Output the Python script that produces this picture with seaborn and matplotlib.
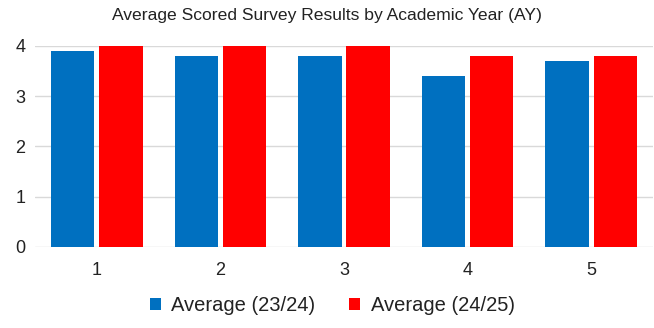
import pandas as pd
import matplotlib
matplotlib.use("Agg")
import matplotlib.pyplot as plt
import seaborn as sns

# data
categories = ["1", "2", "3", "4", "5"]
avg_2324 = [3.9, 3.8, 3.8, 3.4, 3.7]
avg_2425 = [4.0, 4.0, 4.0, 3.8, 3.8]
series_names = ["Average (23/24)", "Average (24/25)"]
colors = ["#0070C0", "#FF0000"]

df = pd.DataFrame({
    "Item": categories * 2,
    "Score": avg_2324 + avg_2425,
    "Series": [series_names[0]] * len(categories) + [series_names[1]] * len(categories),
})

sns.set_style("white")
plt.rcParams['font.family'] = ['Liberation Sans', 'DejaVu Sans']

fig = plt.figure(figsize=(6.54, 3.28), dpi=100)
ax = fig.add_axes([0.0535, 0.247, 0.945, 0.613])

sns.barplot(data=df, x="Item", y="Score", hue="Series", palette=colors,
            width=0.78, gap=0.1, saturation=1, linewidth=0, ax=ax, zorder=3)

ax.set_ylim(0, 4)
ax.set_yticks([0, 1, 2, 3, 4])
ax.set_xlim(-0.5, 4.5)
ax.grid(axis="y", color="#d9d9d9", linewidth=1, zorder=0)
for s in ax.spines.values():
    s.set_visible(False)
ax.tick_params(axis="both", length=0, labelsize=13, colors="#222222")
ax.tick_params(axis="x", pad=11)
ax.tick_params(axis="y", pad=7)
ax.set_xlabel("")
ax.set_ylabel("")

fig.suptitle("Average Scored Survey Results by Academic Year (AY)",
             x=0.5, y=0.975, fontsize=12.6, color="#222222")

ax.legend_.remove()
handles, labels = ax.get_legend_handles_labels()
fig.legend(handles, labels, loc="center", bbox_to_anchor=(0.508, 0.068), ncol=2,
           frameon=False, fontsize=14.5, handlelength=0.55, handleheight=0.55,
           handletextpad=0.5, columnspacing=1.7, labelcolor="#222222")

fig.savefig("out.png", dpi=100)
